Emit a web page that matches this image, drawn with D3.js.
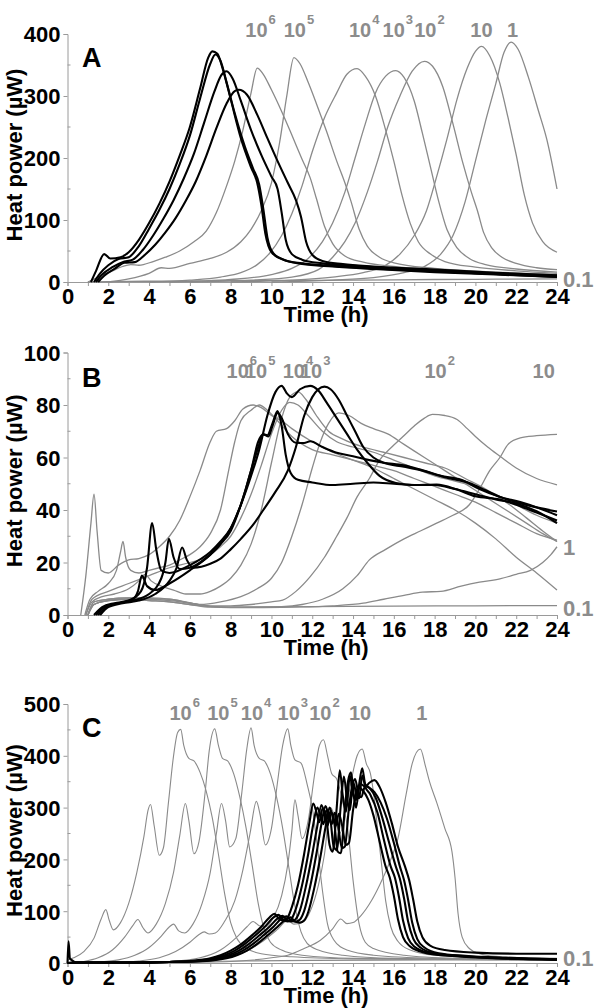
<!DOCTYPE html>
<html>
<head>
<meta charset="utf-8">
<script src="https://cdn.jsdelivr.net/npm/d3@7"></script>
<style>
  body { margin: 0; background: #fff; }
  text { font-family: "Liberation Sans Narrow", "Arial Narrow", "Liberation Sans", Arial, sans-serif; font-weight: bold; }
  .letter { font-family: "Liberation Sans", Arial, sans-serif; }
</style>
</head>
<body>
<script>
// ---- data: [time (h), heat power (uW)] ----

// panel A
const aGray6  = [[1,0],[1.5,8],[2.2,18],[2.7,25],[3.1,28],[3.5,27],[4.2,33],[4.8,40],[5.5,50],[6.2,65],[6.8,82],[7.3,112],[7.8,155],[8.2,195],[8.6,245],[9.0,305],[9.3,345],[9.6,335],[10.0,310],[10.5,275],[11.0,237],[11.5,198],[11.9,168],[12.2,135],[12.6,90],[13.0,62],[13.6,42],[14.5,32],[16,25],[19,18],[24,12]];
const aGray5  = [[2,0],[3,5],[4,14],[4.6,23],[5,22],[6,30],[7,38],[7.8,48],[8.5,65],[9,85],[9.5,115],[10,160],[10.4,225],[10.75,300],[11.1,362],[11.4,352],[11.8,322],[12.2,288],[12.7,243],[13.2,195],[13.6,160],[13.9,130],[14.3,85],[14.7,58],[15.3,40],[16,31],[18,22],[21,16],[24,12]];
const aGray4  = [[4,0],[6,3],[7.5,8],[8.5,15],[9.3,28],[9.9,46],[10.5,75],[11,110],[11.5,155],[12,210],[12.6,265],[13.2,305],[13.7,335],[14.2,344],[14.6,332],[15.1,300],[15.6,245],[16,195],[16.4,140],[16.8,95],[17.2,65],[17.8,45],[18.5,33],[20,24],[22,18],[24,14]];
const aGray3  = [[5,0],[8,4],[10,12],[11,22],[11.8,38],[12.5,65],[13,95],[13.6,145],[14.1,200],[14.6,255],[15.1,305],[15.6,332],[16.1,341],[16.5,330],[17,292],[17.4,240],[17.8,185],[18.2,130],[18.6,85],[19.1,55],[19.7,38],[20.5,28],[22,21],[24,16]];
const aGray2  = [[6,0],[9,3],[11,8],[12.3,20],[13,40],[13.6,65],[14.1,95],[14.7,145],[15.2,195],[15.7,250],[16.3,300],[16.9,340],[17.5,356],[17.9,348],[18.4,315],[18.9,255],[19.4,190],[19.8,145],[20.1,115],[20.4,80],[20.8,55],[21.3,40],[22,30],[23,23],[24,20]];
const aGray10 = [[8,0],[11,3],[13,8],[14.5,15],[15.5,25],[16.3,45],[17,75],[17.6,115],[18.1,170],[18.6,230],[19.1,295],[19.6,345],[20,372],[20.3,380],[20.7,365],[21.2,320],[21.6,265],[22,205],[22.4,140],[22.8,95],[23.3,65],[24,48]];
const aGray1  = [[10,0],[13,3],[15,7],[16.5,15],[17.5,25],[18.3,45],[18.9,75],[19.5,130],[20,195],[20.5,260],[21,320],[21.4,370],[21.75,387],[22.1,375],[22.6,330],[23.1,275],[23.5,230],[24,150]];
const aGray01 = [[1,0],[3,1],[6,1.5],[10,2.5],[14,3],[18,4],[21,4.5],[24,5]];
const aBlack1 = [[1.15,0],[1.4,18],[1.8,45],[2.1,38],[2.6,40],[3.0,48],[3.5,68],[4.0,95],[4.5,126],[5.0,162],[5.5,204],[6.0,250],[6.5,312],[6.9,362],[7.1,372],[7.35,368],[7.6,345],[8.0,295],[8.5,232],[9.0,185],[9.3,160],[9.5,125],[9.7,78],[10.0,48],[10.5,37],[11.5,29],[13,25],[15,21],[18,16],[21,12],[24,8]];
const aBlack2 = [[1.3,0],[1.6,14],[2.0,27],[2.5,37],[3.0,40],[3.5,58],[4.0,86],[4.5,116],[5.0,150],[5.5,190],[6.0,236],[6.5,296],[7.0,352],[7.25,367],[7.5,357],[7.8,322],[8.2,272],[8.7,218],[9.1,183],[9.4,157],[9.6,118],[9.8,72],[10.1,46],[10.6,36],[11.5,30],[13,26],[15,22],[18,17],[21,13],[24,10]];
const aBlack3 = [[1.4,0],[1.7,12],[2.2,24],[2.7,32],[3.2,36],[3.7,52],[4.2,75],[4.7,102],[5.2,132],[5.7,167],[6.2,207],[6.7,257],[7.2,307],[7.55,334],[7.8,340],[8.1,328],[8.5,292],[9.0,245],[9.5,205],[10.0,170],[10.3,150],[10.5,112],[10.7,68],[11.0,45],[11.5,36],[12.5,30],[14,26],[16,22],[19,16],[24,8]];
const aBlack4 = [[1.5,0],[1.8,10],[2.3,21],[2.8,31],[3.3,32],[3.8,44],[4.3,60],[4.8,80],[5.3,103],[5.8,131],[6.3,163],[6.8,203],[7.3,248],[7.8,288],[8.2,308],[8.4,310],[8.8,302],[9.3,270],[9.8,232],[10.3,195],[10.8,160],[11.2,132],[11.45,105],[11.7,65],[12.0,44],[12.5,34],[13.5,29],[15,25],[18,20],[21,15],[24,11]];

// panel B
const bGray6  = [[0.65,0],[0.9,15],[1.15,35],[1.3,46],[1.45,32],[1.65,17],[2.0,16],[2.5,19],[3,21],[3.5,21.5],[4,23],[4.5,26],[5,30],[5.5,36],[6,45],[6.5,55],[7,66],[7.3,70],[7.8,71],[8.2,74],[8.6,78.5],[9.1,80],[9.5,79],[10,76],[10.5,74],[11,71],[12,66],[13,62],[14,59],[15,56],[16,52],[17,48],[18,44],[19,40],[20,35],[21,29],[22,22],[23,16],[24,9.5]];
const bGray5  = [[0.85,0],[1.1,6],[1.5,9],[2,12],[2.4,17],[2.6,24],[2.72,28],[2.85,22],[3.1,17],[3.5,16],[4,17],[4.5,18],[5,19],[5.5,21],[6,23],[6.5,26],[7,31],[7.5,40],[7.9,55],[8.2,66],[8.5,74],[9,78],[9.4,80],[9.8,78],[10.3,74],[11,68],[12,63],[13,61],[14,59],[15,57],[16,55],[17,52],[18,49],[19,46],[20,43],[21,39],[22,35],[23,31],[24,28.5]];
const bGray4  = [[0.9,0],[1.2,5],[1.7,7],[2.3,8],[3,10],[3.5,13],[3.8,15.5],[4.1,13],[4.6,11],[5.2,9.5],[5.8,8],[6.5,8],[7,9],[7.5,11],[8,14],[8.5,19],[9,27],[9.5,40],[10,58],[10.5,75],[10.9,83],[11.3,85],[11.7,82],[12.2,76],[12.8,70],[13.5,67],[14.5,64],[15.5,62],[16.5,60],[17.5,58],[18.5,56],[19.5,52],[20.5,48],[21.5,43],[22.5,37],[23.3,32],[24,28]];
const bGray4b = [[0.9,0],[1.2,6],[2,9],[3,12],[4,15],[5,18],[6,20],[6.8,22],[7.5,26],[8,30],[8.5,37],[9,46],[9.5,57],[10,69],[10.5,78],[10.9,81],[11.3,80],[11.8,76],[12.5,70],[13.2,66],[14,64],[15,62],[16,59],[17,56],[18,53],[19,51],[20,49],[21,46],[22,42],[23,38],[24,35]];
const bGray3  = [[1,0],[1.3,5],[2,6],[3,6.5],[4,6.5],[5,6],[5.8,5],[6.5,4],[7.5,5],[8.5,7],[9.3,10],[10,14],[10.5,20],[11,30],[11.5,42],[12,56],[12.4,66],[12.8,73],[13.3,77],[13.8,76],[14.4,73],[15,71],[15.7,69],[16.5,65],[17.5,60],[18.5,55],[19.5,50],[20.5,45],[21.5,40],[22.5,35],[23.3,31],[24,28]];
const bGray2  = [[1,0],[1.3,5],[2,6],[3,6.5],[4,6.3],[5,6],[6,4.5],[7,3.5],[8,3.5],[9,4],[10,5],[10.55,5.7],[11.2,9],[11.9,14.6],[12.6,22],[13.2,30],[13.7,37],[14.2,45],[14.8,52],[15.3,59],[15.9,64],[16.45,68],[17,72],[17.5,75],[17.9,76.4],[18.5,76],[19.1,74.5],[19.6,71],[20,68],[20.6,64],[21.2,60.5],[22,56],[23,52],[24,49.6]];
const bGray10 = [[1,0],[1.3,4],[2,5.5],[3,6],[4,5.5],[5,5],[6,4],[7,3.2],[9,3],[10.5,3.2],[11.5,4],[12.5,6],[13.5,10],[14.2,15],[14.8,21],[15.6,25],[16.5,29],[17.3,32],[18.1,35],[18.9,38],[19.7,42],[20.2,48],[20.7,55],[21.2,60],[21.6,65],[22.2,67.5],[23,68.3],[24,68.8]];
const bGray1  = [[1,0],[1.3,4],[2,5.5],[3,6],[4,5.5],[5,5],[6,4],[7,3],[9,2.8],[11,3],[13,3.5],[14.5,4.5],[15.5,6],[16.5,7.5],[17.4,8.7],[18.3,9],[19.3,11],[20.2,12.5],[21.2,13.8],[22,15.5],[22.7,17],[23.3,20],[23.7,23],[24,26]];
const bGray01 = [[1,0],[1.3,4],[2,5.5],[3,6],[4,6],[5,5.5],[6,4.5],[7,3.3],[8,3],[12,3.2],[16,3.4],[20,3.5],[24,3.6]];
const bBlack1 = [[1.4,0],[1.8,3],[2.5,4.5],[3.2,6],[3.45,9],[3.65,15],[3.9,11],[4.3,9.5],[5,12],[6,17],[7,23],[7.5,27],[8,33],[8.5,42],[9,55],[9.4,65],[9.6,68.8],[9.8,68.5],[10.05,73],[10.3,77.7],[10.5,72],[10.7,61],[10.95,54],[11.3,51.5],[12,50.5],[13,49.5],[14,50],[15,50.5],[16,50],[17,49.5],[18,49.5],[19,48],[20,46],[21,44],[22,42.5],[23,39.5],[24,35]];
const bBlack2 = [[1.3,0],[1.7,3],[2.3,4.5],[3,5.5],[3.6,9],[3.9,18],[4.15,35],[4.35,25],[4.6,17],[5,16],[6,19],[7,24],[7.5,28],[8,33],[8.5,42],[9,53],[9.4,63],[9.8,76],[10.2,85],[10.5,87.3],[10.75,84.5],[11,83],[11.4,86],[11.9,87.3],[12.3,85.5],[12.7,81],[13.2,75],[13.7,69],[14.2,63],[14.7,58],[15.3,53],[16.1,50.3],[17,49.5],[18.1,49.7],[19.1,47.8],[20,45.2],[21.2,44],[22,42],[23,39],[24,36]];
const bBlack3 = [[1.5,0],[1.9,3],[2.5,4.5],[3.2,5.5],[4,8],[4.6,14],[4.8,20],[4.97,29],[5.2,22],[5.5,17.5],[6,18],[6.5,20],[7,23],[7.5,27],[8,32],[8.5,42],[9,55],[9.35,66],[9.6,68.8],[9.85,68],[10.05,72],[10.3,77],[10.5,75],[10.8,69],[11.2,65.6],[11.6,65.5],[11.9,66.2],[12.5,64],[13.2,61.8],[14,60.5],[14.8,59],[15.5,58],[16.5,57],[17.3,55.4],[18.5,52.5],[19.7,50.3],[20.5,47.5],[21.2,45],[22,43],[23,41],[24,39.4]];
const bBlack4 = [[1.6,0],[2,3],[2.7,4.5],[3.5,5.5],[4.3,8],[5,13],[5.35,18],[5.62,25.7],[5.85,21],[6.2,18],[7,19.5],[7.5,21.5],[8,25],[8.5,29],[9.16,35],[9.6,40],[10.2,47],[10.8,55],[11.2,64],[11.6,75.8],[12,83],[12.3,86],[12.6,87],[12.9,86],[13.3,82],[13.7,76],[14.1,70],[14.5,64],[15,60],[15.5,58],[16.5,56.5],[17.4,55],[18.3,53],[19.3,51.5],[20.2,48],[21.2,45],[22.2,43],[23,41],[24,38]];

// panel C
const cGray6  = [[0,6],[0.3,10],[0.8,22],[1.3,48],[1.65,85],[1.88,103],[2.05,82],[2.25,64],[2.6,78],[3,115],[3.4,175],[3.75,245],[3.95,295],[4.07,306],[4.25,265],[4.5,208],[4.7,222],[4.95,310],[5.2,400],[5.4,445],[5.55,451],[5.7,420],[5.95,395],[6.2,390],[6.5,368],[6.8,332],[7.1,280],[7.4,210],[7.7,135],[8,78],[8.3,48],[8.8,28],[9.5,18],[11,12],[14,8],[24,5]];
const cGray5  = [[0,0],[0.8,3],[1.5,10],[2.2,25],[2.8,50],[3.2,72],[3.45,84],[3.7,68],[3.95,58],[4.35,75],[4.8,115],[5.2,175],[5.5,245],[5.78,308],[5.95,275],[6.2,211],[6.45,235],[6.75,330],[6.95,410],[7.22,452],[7.4,420],[7.6,395],[7.85,390],[8.15,365],[8.45,320],[8.75,262],[9.05,190],[9.35,115],[9.65,65],[9.95,40],[10.5,25],[11.5,15],[14,9],[24,6]];
const cGray4  = [[0,0],[1.5,2],[2.5,6],[3.3,15],[4,30],[4.6,52],[5,70],[5.2,75],[5.45,62],[5.75,58],[6.15,75],[6.6,115],[7,175],[7.3,250],[7.55,308],[7.75,275],[7.95,224],[8.25,240],[8.55,330],[8.78,410],[9,454],[9.15,420],[9.4,395],[9.65,390],[9.95,365],[10.25,320],[10.55,260],[10.85,185],[11.15,110],[11.45,60],[11.75,38],[12.3,25],[13.5,15],[16,9],[24,6]];
const cGray3  = [[0,0],[2,1],[3.5,4],[4.5,10],[5.3,22],[6,40],[6.45,55],[6.7,60],[6.95,56],[7.25,58],[7.7,80],[8.2,120],[8.6,180],[8.95,250],[9.26,312],[9.45,285],[9.7,228],[10,260],[10.3,350],[10.55,420],[10.8,452],[10.95,420],[11.15,392],[11.45,386],[11.75,345],[12,300],[12.25,225],[12.5,140],[12.75,75],[13.05,45],[13.7,25],[15,15],[18,9],[24,6]];
const cGray2  = [[0,0],[3,1],[5,3],[6.5,10],[7.5,25],[8.3,50],[8.8,70],[9.1,80],[9.4,72],[9.7,70],[10.1,88],[10.5,130],[10.8,190],[11,255],[11.15,315],[11.3,285],[11.5,240],[11.8,275],[12.1,360],[12.35,420],[12.55,431],[12.75,400],[12.95,366],[13.2,355],[13.5,310],[13.75,255],[14,160],[14.3,75],[14.6,40],[15,28],[16.5,15],[19,9],[24,6]];
const cGray10 = [[0,0],[4,1],[6,3],[7.5,8],[8.5,18],[9.5,40],[10.3,65],[10.8,82],[11.1,75],[11.5,78],[11.9,100],[12.3,150],[12.6,210],[12.9,300],[13.1,282],[13.35,250],[13.65,295],[13.95,360],[14.2,400],[14.45,413],[14.65,385],[14.85,366],[15,330],[15.2,260],[15.4,190],[15.6,120],[15.85,70],[16.2,42],[16.8,25],[18,15],[21,10],[24,8]];
const cGray1  = [[0,0],[5,1],[8,3],[10,10],[10.8,15],[11.6,28],[12.4,44],[13,66],[13.4,85],[13.7,76],[14,78],[14.4,92],[14.9,120],[15.3,150],[15.8,195],[16.2,240],[16.6,325],[16.9,385],[17.3,413],[17.55,380],[17.75,350],[18.1,310],[18.5,260],[18.85,215],[19,165],[19.15,95],[19.35,50],[19.7,28],[20.2,18],[21,13],[24,9]];
const cGray01 = [[0,0],[2,2],[6,3],[12,5],[18,6],[24,7]];
const cBlack1 = [[0,0],[0.05,42],[0.12,8],[0.5,1],[3,1],[5,2],[6,4],[7,9],[7.5,15],[8,24],[8.5,36],[9,52],[9.5,70],[9.9,88],[10.15,95],[10.35,86],[10.6,82],[10.8,88],[11,108],[11.3,150],[11.6,210],[11.85,268],[12.05,308],[12.2,292],[12.35,272],[12.5,298],[12.65,290],[12.85,228],[13,215],[13.2,300],[13.35,372],[13.5,322],[13.65,292],[13.85,362],[14,325],[14.15,315],[14.3,338],[14.5,332],[14.75,315],[15,285],[15.3,235],[15.6,186],[15.8,165],[16,130],[16.2,85],[16.45,50],[16.8,32],[17.5,20],[19,13],[21,9],[24,7]];
const cBlack2 = [[0,0],[0.5,1],[3,1],[5,2],[6.2,4],[7.2,9],[7.7,15],[8.2,24],[8.7,37],[9.2,53],[9.7,71],[10.1,88],[10.35,93],[10.55,84],[10.8,80],[11,86],[11.2,105],[11.5,150],[11.8,210],[12.05,268],[12.25,300],[12.4,285],[12.55,268],[12.7,295],[12.85,288],[13.05,225],[13.2,218],[13.4,305],[13.55,360],[13.7,318],[13.85,295],[14,350],[14.15,328],[14.3,318],[14.45,362],[14.6,340],[14.85,325],[15.2,290],[15.5,240],[15.85,186],[16.05,165],[16.25,128],[16.45,82],[16.7,48],[17,32],[17.7,20],[19,14],[21,10],[24,7]];
const cBlack3 = [[0,0],[0.5,1],[3,1],[5,2],[6.4,4],[7.4,9],[7.9,15],[8.4,24],[8.9,37],[9.4,53],[9.9,70],[10.3,86],[10.55,91],[10.75,83],[11,80],[11.2,85],[11.4,102],[11.7,150],[12,210],[12.25,265],[12.45,305],[12.6,288],[12.75,265],[12.9,292],[13.05,280],[13.25,215],[13.4,212],[13.6,300],[13.75,350],[13.9,368],[14.05,320],[14.15,300],[14.3,345],[14.45,376],[14.6,345],[14.8,338],[15.1,320],[15.4,285],[15.75,235],[16.1,186],[16.3,162],[16.5,125],[16.7,80],[16.95,47],[17.3,30],[18,19],[19.5,13],[21.5,9],[24,6]];
const cBlack4 = [[0,0],[0.5,1],[3,1],[5,2],[6.6,4],[7.6,9],[8.1,15],[8.6,24],[9.1,37],[9.6,53],[10.1,70],[10.5,86],[10.75,90],[10.95,82],[11.2,80],[11.4,84],[11.6,100],[11.9,148],[12.2,210],[12.45,268],[12.65,303],[12.8,285],[12.95,268],[13.1,290],[13.25,270],[13.45,222],[13.6,225],[13.8,300],[13.95,340],[14.1,355],[14.25,330],[14.4,320],[14.6,342],[14.8,338],[15.05,330],[15.35,310],[15.65,280],[16,232],[16.3,186],[16.5,160],[16.7,122],[16.9,78],[17.15,46],[17.5,30],[18.2,19],[19.5,14],[21.5,10],[24,7]];
const cBlack5 = [[0,0],[0.5,1],[3,1],[5,2],[6.8,4],[7.8,9],[8.3,15],[8.8,24],[9.3,37],[9.8,53],[10.3,70],[10.7,84],[10.95,88],[11.15,80],[11.4,78],[11.6,82],[11.8,98],[12.1,145],[12.4,205],[12.65,262],[12.85,300],[13,282],[13.15,265],[13.3,288],[13.45,268],[13.65,228],[13.8,232],[14,295],[14.2,335],[14.4,345],[14.6,340],[14.8,348],[15.05,353],[15.3,340],[15.6,310],[15.9,270],[16.2,225],[16.55,186],[16.75,160],[16.95,122],[17.15,80],[17.4,50],[17.8,33],[18.5,25],[20,20],[22,18],[24,18]];

// ticks and curve labels
const xTicks  = [0,2,4,6,8,10,12,14,16,18,20,22,24];
const yTicksA = [0,100,200,300,400];
const yTicksB = [0,20,40,60,80,100];
const yTicksC = [0,100,200,300,400,500];

const aLabelBase = ["10","10","10","10","10","10","1"];
const aLabelExp  = ["6","5","4","3","2","",""];
const aLabelT    = [8.72,10.6,13.8,15.45,17.0,19.75,21.55];
const bLabelBase = ["10","10","10","10","10","10"];
const bLabelExp  = ["6","5","4","3","2",""];
const bLabelT    = [7.8,8.7,10.55,11.4,17.5,22.8];
const cLabelBase = ["10","10","10","10","10","10","1"];
const cLabelExp  = ["6","5","4","3","2","",""];
const cLabelT    = [5.0,6.85,8.5,10.3,11.85,13.8,17.1];

// ---- drawing ----
const width = 600, height = 1008;
const svg = d3.select("body").append("svg")
  .attr("width", width).attr("height", height);

const x = d3.scaleLinear().domain([0, 24]).range([67.5, 557]);
const axisGrey = "#9a9a9a";
const labelGrey = "#8c8c8c";

const panels = [
  { letter: "A", yMax: 400, top: 34, bottom: 282, ticks: yTicksA, minor: 50, grayW: 1.3,
    gray: [aGray6, aGray5, aGray4, aGray3, aGray2, aGray10, aGray1, aGray01],
    black: [aBlack1, aBlack2, aBlack3, aBlack4],
    lBase: aLabelBase, lExp: aLabelExp, lT: aLabelT, lY: 37, letterY: 67,
    ends: [["0.1", 5]] },
  { letter: "B", yMax: 100, top: 352.5, bottom: 615, ticks: yTicksB, minor: 10, grayW: 1.3,
    gray: [bGray6, bGray5, bGray4, bGray4b, bGray3, bGray2, bGray10, bGray1, bGray01],
    black: [bBlack1, bBlack2, bBlack3, bBlack4],
    lBase: bLabelBase, lExp: bLabelExp, lT: bLabelT, lY: 378, letterY: 387,
    ends: [["1", 26], ["0.1", 2.5]] },
  { letter: "C", yMax: 500, top: 704, bottom: 963, ticks: yTicksC, minor: 50, grayW: 1.1,
    gray: [cGray6, cGray5, cGray4, cGray3, cGray2, cGray10, cGray1, cGray01],
    black: [cBlack1, cBlack2, cBlack3, cBlack4, cBlack5],
    lBase: cLabelBase, lExp: cLabelExp, lT: cLabelT, lY: 720, letterY: 737,
    ends: [["0.1", 10]] }
];

panels.forEach(function(p) {
  const y = d3.scaleLinear().domain([0, p.yMax]).range([p.bottom, p.top]);
  const g = svg.append("g");

  // minor y ticks
  const minorVals = d3.range(p.minor, p.yMax, p.minor).filter(v => !p.ticks.includes(v));
  g.selectAll(".minor").data(minorVals).enter().append("line")
    .attr("x1", x(0)).attr("x2", x(0) + 3)
    .attr("y1", d => y(d)).attr("y2", d => y(d))
    .attr("stroke", axisGrey).attr("stroke-width", 1);

  // y axis
  const yAxis = g.append("g")
    .attr("transform", "translate(" + x(0) + ",0)")
    .call(d3.axisLeft(y).tickValues(p.ticks).tickSize(4).tickPadding(3));
  yAxis.select(".domain").attr("stroke", axisGrey);
  yAxis.selectAll(".tick line").attr("stroke", axisGrey);
  yAxis.selectAll(".tick text").attr("font-size", 22).attr("fill", "#000")
    .attr("font-family", null).attr("dy", "0.36em");

  // x axis: a tick every hour, labels every two
  const xAxis = g.append("g")
    .attr("transform", "translate(0," + p.bottom + ")")
    .call(d3.axisBottom(x).tickValues(d3.range(0, 25, 1)).tickSize(4).tickPadding(2)
      .tickFormat(d => xTicks.includes(d) ? d : ""));
  xAxis.select(".domain").attr("stroke", axisGrey);
  xAxis.selectAll(".tick line").attr("stroke", axisGrey);
  xAxis.selectAll(".tick text").attr("font-size", 22).attr("fill", "#000")
    .attr("font-family", null);

  // curves
  const line = d3.line()
    .x(d => x(d[0])).y(d => y(d[1]))
    .curve(d3.curveMonotoneX);

  g.selectAll(".gray").data(p.gray).enter().append("path")
    .attr("d", line).attr("fill", "none")
    .attr("stroke", "#8a8a8a").attr("stroke-width", p.grayW);

  g.selectAll(".black").data(p.black).enter().append("path")
    .attr("d", line).attr("fill", "none")
    .attr("stroke", "#000").attr("stroke-width", 2.1);

  // inoculum labels
  p.lBase.forEach(function(base, i) {
    const t = g.append("text")
      .attr("x", x(p.lT[i])).attr("y", p.lY)
      .attr("font-size", 20).attr("fill", labelGrey);
    t.append("tspan").text(base);
    if (p.lExp[i]) {
      t.append("tspan").attr("dx", 1).attr("dy", -13)
        .attr("font-size", 13).text(p.lExp[i]);
    }
  });

  p.ends.forEach(function(e) {
    g.append("text")
      .attr("x", 563).attr("y", y(e[1]) + 8)
      .attr("font-size", 22).attr("fill", labelGrey)
      .text(e[0]);
  });

  // panel letter
  g.append("text").attr("class", "letter")
    .attr("x", 82).attr("y", p.letterY)
    .attr("font-size", 27).attr("fill", "#000")
    .text(p.letter);

  // axis titles
  g.append("text")
    .attr("transform", "translate(22," + ((p.top + p.bottom) / 2 - 3) + ") rotate(-90)")
    .attr("text-anchor", "middle").attr("font-size", 22)
    .text("Heat power (\u00B5W)");

  g.append("text")
    .attr("x", 326).attr("y", p.bottom + 40)
    .attr("text-anchor", "middle").attr("font-size", 22)
    .text("Time (h)");
});
</script>
</body>
</html>
